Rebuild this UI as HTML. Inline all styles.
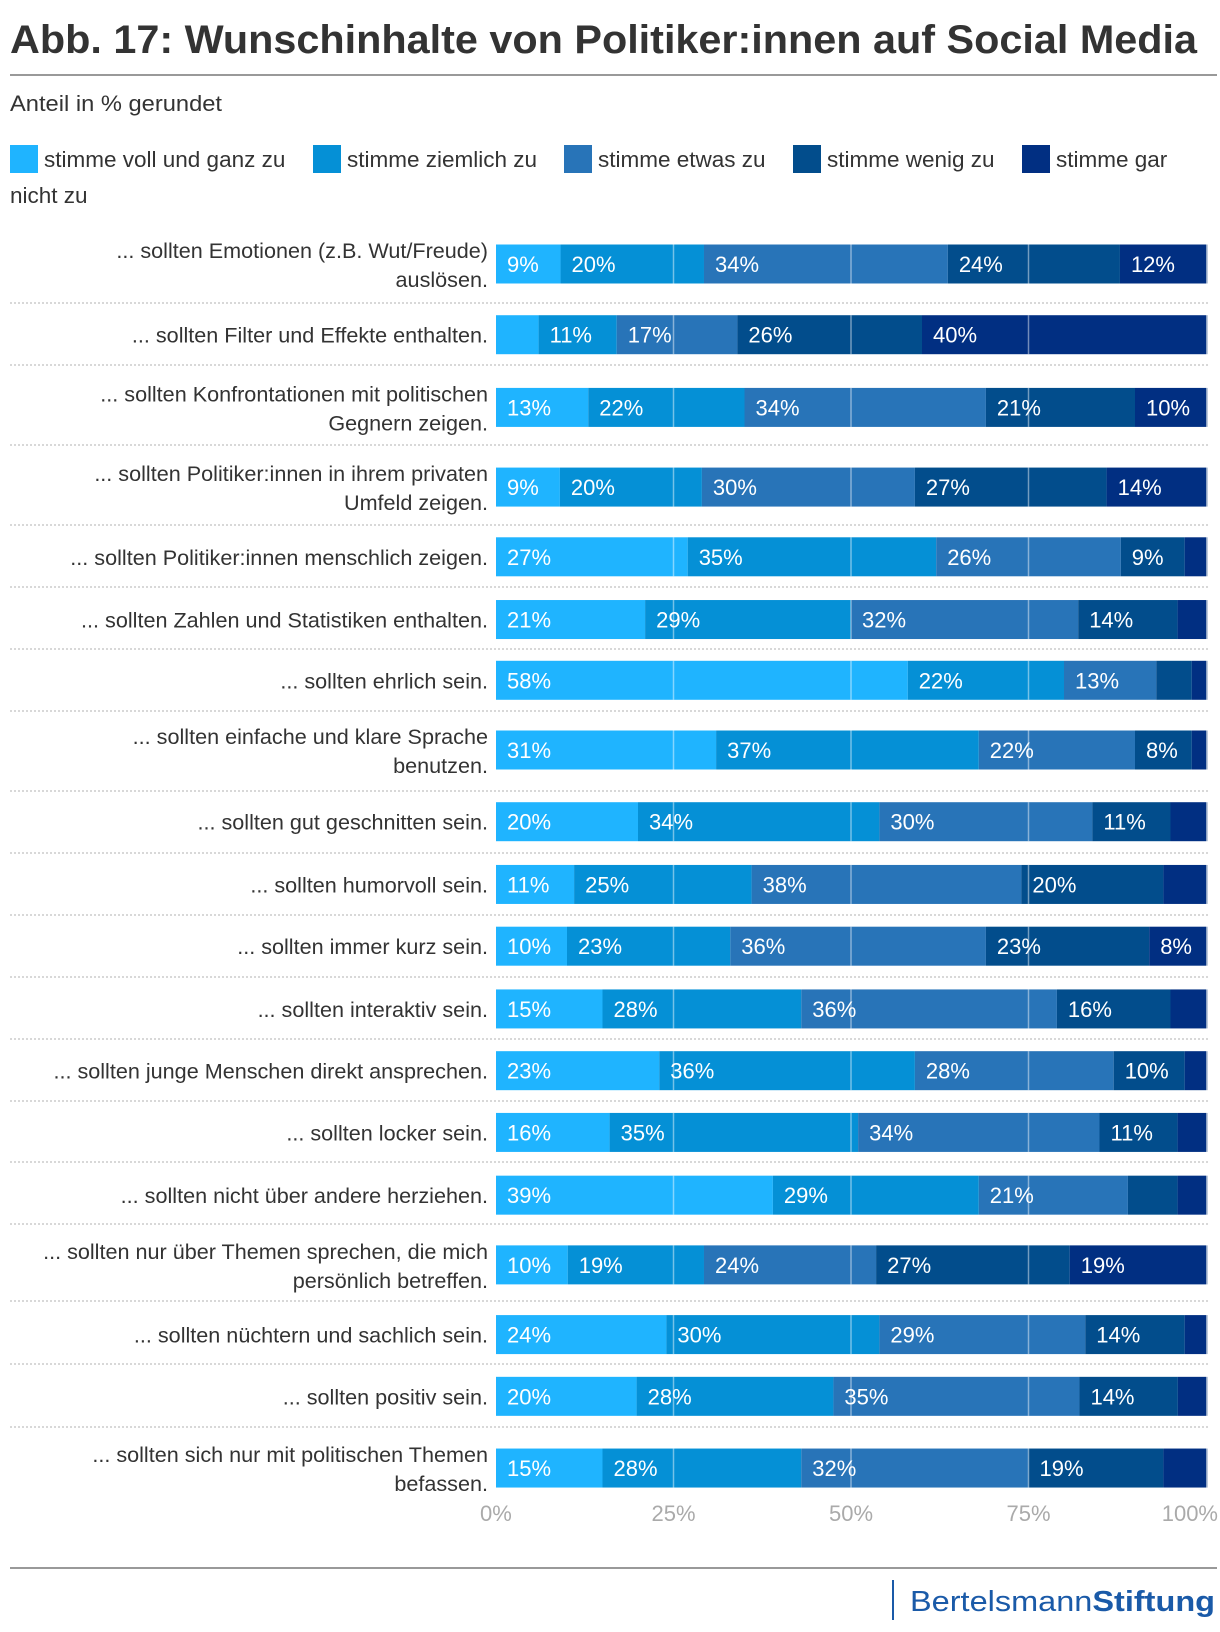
<!DOCTYPE html>
<html><head><meta charset="utf-8">
<style>
html,body{margin:0;padding:0;background:#fff;}
svg{display:block;font-family:"Liberation Sans",sans-serif;}
</style></head>
<body>
<svg id="chart" width="1220" height="1632" viewBox="0 0 1220 1632" xmlns="http://www.w3.org/2000/svg">
<text x="10" y="53" font-size="40" font-weight="bold" fill="#333" textLength="1187" lengthAdjust="spacingAndGlyphs">Abb. 17: Wunschinhalte von Politiker:innen auf Social Media</text>
<line x1="10" y1="75" x2="1217" y2="75" stroke="#999" stroke-width="2"/>
<text x="10" y="111" font-size="22" fill="#333" textLength="212" lengthAdjust="spacingAndGlyphs">Anteil in % gerundet</text>
<g id="legend"></g>
<g id="rows"></g>
<g id="axis"></g>
<line x1="10" y1="1568" x2="1217" y2="1568" stroke="#999" stroke-width="2"/>
<line x1="893" y1="1580" x2="893" y2="1620" stroke="#1a5aa8" stroke-width="2"/>
<text x="910" y="1611" font-size="29" fill="#1a5aa8" textLength="305" lengthAdjust="spacingAndGlyphs">Bertelsmann<tspan font-weight="bold">Stiftung</tspan></text>
</svg>
<script>
const seriesNames = ["stimme voll und ganz zu","stimme ziemlich zu","stimme etwas zu","stimme wenig zu","stimme gar nicht zu"];
const categories = [
 ["... sollten Emotionen (z.B. Wut/Freude)","auslösen."],
 ["... sollten Filter und Effekte enthalten."],
 ["... sollten Konfrontationen mit politischen","Gegnern zeigen."],
 ["... sollten Politiker:innen in ihrem privaten","Umfeld zeigen."],
 ["... sollten Politiker:innen menschlich zeigen."],
 ["... sollten Zahlen und Statistiken enthalten."],
 ["... sollten ehrlich sein."],
 ["... sollten einfache und klare Sprache","benutzen."],
 ["... sollten gut geschnitten sein."],
 ["... sollten humorvoll sein."],
 ["... sollten immer kurz sein."],
 ["... sollten interaktiv sein."],
 ["... sollten junge Menschen direkt ansprechen."],
 ["... sollten locker sein."],
 ["... sollten nicht über andere herziehen."],
 ["... sollten nur über Themen sprechen, die mich","persönlich betreffen."],
 ["... sollten nüchtern und sachlich sein."],
 ["... sollten positiv sein."],
 ["... sollten sich nur mit politischen Themen","befassen."]
];
const voll    = [9,6,13,9,27,21,58,31,20,11,10,15,23,16,39,10,24,20,15];
const ziemlich= [20,11,22,20,35,29,22,37,34,25,23,28,36,35,29,19,30,28,28];
const etwas   = [34,17,34,30,26,32,13,22,30,38,36,36,28,34,21,24,29,35,32];
const wenig   = [24,26,21,27,9,14,5,8,11,20,23,16,10,11,7,27,14,14,19];
const gar     = [12,40,10,14,3,4,2,2,5,6,8,5,3,4,4,19,3,4,6];
const showLabel = [
 [1,1,1,1,1],[0,1,1,1,1],[1,1,1,1,1],[1,1,1,1,1],[1,1,1,1,0],[1,1,1,1,0],[1,1,1,0,0],
 [1,1,1,1,0],[1,1,1,1,0],[1,1,1,1,0],[1,1,1,1,1],[1,1,1,1,0],[1,1,1,1,0],[1,1,1,1,0],
 [1,1,1,0,0],[1,1,1,1,1],[1,1,1,1,0],[1,1,1,1,0],[1,1,1,1,0]];
const ticks = [0,25,50,75,100];
const tickLabels = ["0%","25%","50%","75%","100%"];

const colors = ["#1fb4ff","#0590d6","#2874b8","#024d8c","#012f82"];
const NS = "http://www.w3.org/2000/svg";
const X0 = 496, X1 = 1206;
const xScale = v => X0 + (X1 - X0) * v / 100;
const rawCenters = [264,335,408,488,558,621,682,752,824,887,949,1012,1074,1136,1199,1269,1339,1401,1473];
const rowCenters = rawCenters.map(c => 264 + (c-264)*0.9959);
const seps = [303,365,445,525,587,649,711,791,853,915,977,1039,1101,1162,1224,1301,1364,1427];
const BH = 39;
function el(tag, attrs, parent){const e=document.createElementNS(NS,tag);for(const k in attrs)e.setAttribute(k,attrs[k]);parent.appendChild(e);return e;}

const lg = document.getElementById('legend');
const legX = [10,313,564,793,1022];
seriesNames.forEach((n,i)=>{
  const r = el('rect',{x:legX[i],y:145,width:28,height:28,fill:colors[i]},lg);
  
  
  const t = el('text',{x:legX[i]+34,y:167,'font-size':22.5,fill:'#333'},lg);
  
  
  if(i===4){t.textContent="stimme gar";const t2=el('text',{x:10,y:203,'font-size':22.5,fill:'#333'},lg);t2.textContent="nicht zu";
    
    }
  else t.textContent=n;
});

const rowsG = document.getElementById('rows');
const series = [voll,ziemlich,etwas,wenig,gar];
categories.forEach((cat,ri)=>{
  const cy = rowCenters[ri];
  const g = el('g',{},rowsG);
  
  
  cat.forEach((line,li)=>{
    const yy = cat.length===1 ? cy+8 : cy-6 + li*29;
    const t = el('text',{x:488,y:yy,'font-size':21.6,fill:'#333','text-anchor':'end'},g);
    t.textContent=line;
    
    
  });
  const vals = series.map(s=>s[ri]);
  const total = vals.reduce((a,b)=>a+b,0);
  let acc = 0;
  vals.forEach((v,si)=>{
    const xa = xScale(acc/total*100), xb = xScale((acc+v)/total*100);
    const r = el('rect',{x:xa,y:cy-BH/2,width:Math.max(0,xb-xa),height:BH,fill:colors[si]},g);
    
    
    acc += v;
  });
  [25,50,75].forEach(tk=>{
    const l = el('line',{x1:xScale(tk),x2:xScale(tk),y1:cy-BH/2,y2:cy+BH/2,stroke:'rgba(255,255,255,0.45)','stroke-width':1.5},g);
    
    
  });
  const edge = el('line',{x1:X1+0.8,x2:X1+0.8,y1:cy-BH/2,y2:cy+BH/2,stroke:'#8aa0c0','stroke-width':1.5},g);
  
  
  acc = 0;
  vals.forEach((v,si)=>{
    const xa = xScale(acc/total*100);
    if(showLabel[ri][si]){
      const t = el('text',{x:xa+11,y:cy+8,'font-size':22,fill:'#fff'},g);
      t.textContent=v+'%';
      
      
    }
    acc += v;
  });
});
seps.forEach(y=>{
  const l = el('line',{x1:10,x2:1210,y1:y,y2:y,stroke:'#ccc','stroke-width':1.5,'stroke-dasharray':'2 2'},rowsG);
  
  
});
const ax = document.getElementById('axis');
ticks.forEach((tk,i)=>{
  let anchor='middle', xx=xScale(tk);
  if(i===0){anchor='start'; xx=xScale(tk)-16;}
  if(i===ticks.length-1){anchor='end'; xx=1218;}
  const t = el('text',{x:xx,y:1521,'font-size':22,fill:'#aaa','text-anchor':anchor},ax);
  t.textContent=tickLabels[i];
  
  
});
</script>
</body></html>
